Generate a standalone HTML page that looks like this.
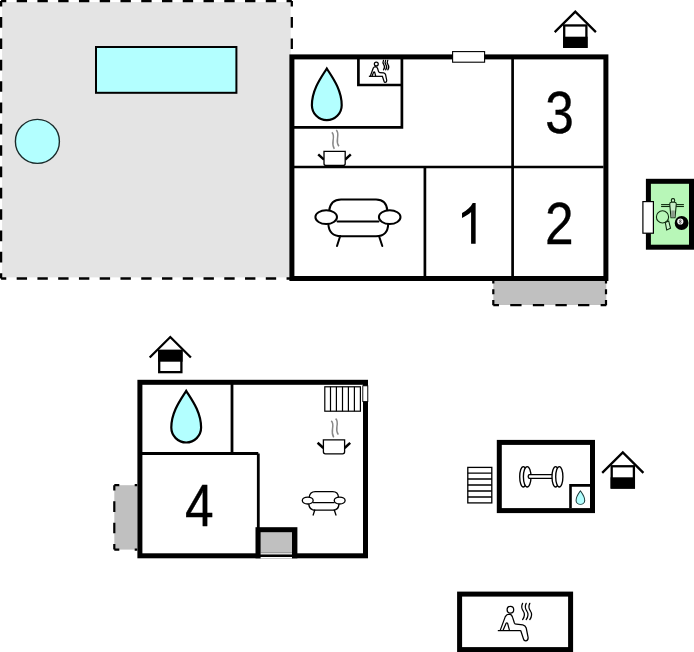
<!DOCTYPE html>
<html><head><meta charset="utf-8"><title>Floor plan</title>
<style>
html,body{margin:0;padding:0;background:#fff;}
svg{display:block;}
text{font-family:"Liberation Sans",sans-serif;}
</style></head>
<body>
<svg width="694" height="652" viewBox="0 0 694 652">
<defs>
  <!-- water drop, local coords: tip at (0,-37), bottom circle centre (0,0) r 14.6 -->
  <path id="drop" d="M0 -36.7 C-4.9 -28.8 -14.9 -16 -14.9 0 A14.9 14.9 0 0 0 14.9 0 C14.9 -16 4.9 -28.8 0 -36.7 Z"/>
  <!-- house icon: apex at (0,0) -->
  <g id="hicon">
    <polyline points="-20.6,21.7 0,1.2 20.6,21.7" fill="none" stroke="#000" stroke-width="2.3"/>
    <rect x="-11.1" y="15.05" width="22.2" height="21.3" fill="#fff" stroke="#000" stroke-width="2.3"/>
  </g>
  <!-- sauna figure, ref coords (big one) -->
  <g id="sauna" fill="none" stroke="#000" stroke-linecap="round" stroke-linejoin="round">
    <circle cx="510.4" cy="609.7" r="3.3"/>
    <path d="M500.3 630.1 L505.3 616.6 Q506.6 614.2 509.3 614.2 Q511.8 614.4 512.6 617.4 L514.4 623 Q515 624.2 516.4 624.2 L522.8 624.9 Q525.4 625.4 526.2 628 L528.1 637.3 Q528.4 640.6 525.6 640.9 Q523.9 640.9 523.5 639 L520.8 630.8"/>
    <path d="M503.2 630.1 L506 623.4 Q506.8 622.3 507.6 623.4 L509.3 629.7"/>
    <path d="M497.8 630.6 L520.8 630.6" stroke-linecap="butt"/>
    <path d="M522.6 603.4 C521 606.5 521.3 608.5 523.2 611 C525 613.5 524.7 616.5 522.6 619.6"/>
    <path d="M526.2 603.4 C524.6 606.5 524.9 608.5 526.8 611 C528.6 613.5 528.3 616.5 526.2 619.6"/>
    <path d="M529.8 603.4 C528.2 606.5 528.5 608.5 530.4 611 C532.2 613.5 531.9 616.5 529.8 619.6"/>
  </g>
  <!-- cooking pot, ref coords (house 1) -->
  <g id="pot">
    <path d="M331.8 132.4 C334.2 134.4 333.6 137.5 333.1 140.5 C332.6 143.5 332.9 146.5 334.3 148.9" fill="none" stroke="#888" stroke-width="1.5"/>
    <path d="M336.2 130.2 C338.6 132.2 338 135.3 337.5 138.3 C337 141.3 337.3 144 338.9 146.2" fill="none" stroke="#888" stroke-width="1.5"/>
    <line x1="318.2" y1="154.4" x2="324" y2="159.6" stroke="#000" stroke-width="2.5"/>
    <line x1="345.2" y1="159.6" x2="350.8" y2="154.4" stroke="#000" stroke-width="2.5"/>
    <path d="M324 151.4 L345.2 151.4 L345.2 163.4 Q345.2 165.4 343.2 165.4 L326 165.4 Q324 165.4 324 163.4 Z" fill="#fff" stroke="#000" stroke-width="1.3"/>
  </g>
  <!-- sofa, ref coords (house 1) -->
  <g id="sofa" fill="none" stroke="#000" stroke-linecap="round">
    <path d="M329.2 210.5 Q330.5 199.5 341 199.5 L376 199.5 Q386.5 199.5 387.3 210.5"/>
    <path d="M337.5 221.5 L378.5 221.5"/>
    <path d="M328.3 223.8 Q329 236.3 341 236.3 L376 236.3 Q388 236.3 388.2 223.8"/>
    <path d="M340.2 236 L337 246" />
    <path d="M379 236 L382.3 246" />
    <ellipse cx="326.2" cy="217.1" rx="10.8" ry="6.9" fill="#fff"/>
    <ellipse cx="389.7" cy="217.1" rx="10.8" ry="6.9" fill="#fff"/>
  </g>
</defs>

<!-- ===== Garden / pool area ===== -->
<rect x="2.1" y="2.1" width="288.6" height="275.3" fill="#e4e4e4"/>
<g stroke="#000" stroke-width="2.3" fill="none">
  <line x1="1.1" y1="1.1" x2="291.8" y2="1.1" stroke-dasharray="10.38 10.38" stroke-dashoffset="5.19"/>
  <line x1="1.1" y1="278.5" x2="291.8" y2="278.5" stroke-dasharray="10.38 10.38" stroke-dashoffset="5.19"/>
  <line x1="1.1" y1="1.1" x2="1.1" y2="278.5" stroke-dasharray="10.67 10.67" stroke-dashoffset="5.33"/>
  <line x1="291.8" y1="1.1" x2="291.8" y2="278.5" stroke-dasharray="10.67 10.67" stroke-dashoffset="5.33"/>
</g>
<rect x="96" y="47" width="140.4" height="45.8" fill="#b3ffff" stroke="#000" stroke-width="2"/>
<circle cx="37.4" cy="141.4" r="22" fill="#b3ffff" stroke="#1a2a2a" stroke-width="1.4"/>

<!-- ===== House 1 ===== -->
<rect x="493.3" y="281" width="113" height="24" fill="#c0c0c0"/>
<g stroke="#000" stroke-width="2.2" fill="none">
  <line x1="493.3" y1="281" x2="493.3" y2="305.2" stroke-dasharray="2.6 5.7 4.9 5.9 10"/>
  <line x1="606" y1="281" x2="606" y2="305.2" stroke-dasharray="2.6 5.7 4.9 5.9 10"/>
  <line x1="493.3" y1="305.2" x2="606.3" y2="305.2" stroke-dasharray="11.3 11.3" stroke-dashoffset="5.65"/>
</g>
<rect x="291.9" y="56.9" width="314" height="221.6" fill="#fff" stroke="#000" stroke-width="5"/>
<g stroke="#000" stroke-width="2.7" fill="none">
  <line x1="294" y1="167" x2="603.5" y2="167"/>
  <line x1="512.6" y1="59" x2="512.6" y2="276"/>
  <line x1="424.9" y1="167" x2="424.9" y2="276"/>
  <polyline points="401.9,59 401.9,127.3 294,127.3"/>
  <polyline points="358.4,59 358.4,85 401.9,85"/>
</g>
<rect x="452.6" y="51.6" width="32" height="10.6" fill="#fff" stroke="#000" stroke-width="1.1"/>
<use href="#drop" transform="translate(326.8 105.2)" fill="#b3ffff" stroke="#000" stroke-width="2.2"/>
<use href="#sauna" transform="translate(376.3 64) scale(0.59) translate(-510.4 -609.7)" stroke-width="2.1"/>
<use href="#pot"/>
<use href="#sofa" stroke-width="2"/>
<!-- digits -->
<g font-size="59.5" fill="#000" stroke="#000" stroke-width="0.35">
  <text transform="translate(545.3 132.6) scale(0.865 0.98)">3</text>
  <text transform="translate(545.1 243.7) scale(0.865 0.98)">2</text>
</g>
<path transform="translate(456.4 243.7) scale(0.0252 -0.0277)" d="M763 0H583V1147Q518 1085 412.5 1023T223 930V1104Q374 1175 487 1276T647 1472H763V0Z" fill="#000"/>
<use href="#hicon" transform="translate(575.3 10.4)"/>
<rect x="563.2" y="36.7" width="24.4" height="11.3" fill="#000"/>

<!-- ===== Game room ===== -->
<rect x="648.4" y="181.3" width="43.1" height="65.9" fill="#b8f7b8" stroke="#000" stroke-width="5"/>
<rect x="642.9" y="201.6" width="10.5" height="31.6" fill="#fff" stroke="#000" stroke-width="1.2"/>
<g stroke="#0e2a0e" stroke-width="1.1" fill="none">
  <line x1="661.1" y1="204.6" x2="683.9" y2="204.6"/>
  <line x1="661.1" y1="206.5" x2="683.9" y2="206.5"/>
  <rect x="671.4" y="198.6" width="3.2" height="3.6" rx="1.3" fill="#c6f2c6"/>
  <path d="M669.7 204 Q669.8 202.4 671.3 202.3 L674.7 202.3 Q676.2 202.4 676.3 204 L675 217.7 L671 217.7 Z" fill="#c8eec8"/>
  <path d="M671.3 210.5 L674.7 210.5 L674.9 217.3 L671.1 217.3 Z" fill="#8a9a8a" stroke="none"/>
  <circle cx="662.5" cy="216.9" r="6.1" fill="#b8f7b8"/>
  <path d="M665.3 222.4 L668.7 220.9 L670.5 228.2 L666.7 230 Z" fill="#c8f5c8"/>
</g>
<circle cx="681.6" cy="223" r="6.9" fill="#000"/>
<circle cx="680.3" cy="221.5" r="3.1" fill="#f4f4f4"/>
<g fill="none" stroke="#333" stroke-width="0.7"><circle cx="680.3" cy="220.6" r="0.8"/><circle cx="680.3" cy="222.4" r="0.9"/></g>

<!-- ===== House 2 ===== -->
<rect x="114.3" y="485.2" width="23" height="64.4" fill="#c0c0c0"/>
<g stroke="#000" stroke-width="2.2" fill="none">
  <line x1="114.3" y1="485.2" x2="114.3" y2="549.6" stroke-dasharray="10.7 10.7" stroke-dashoffset="5.35"/>
  <line x1="114.3" y1="485.2" x2="137.3" y2="485.2" stroke-dasharray="5 15.4 5"/>
  <line x1="114.3" y1="549.6" x2="137.3" y2="549.6" stroke-dasharray="5 15.4 5"/>
</g>
<rect x="139.9" y="382.3" width="225.6" height="173.5" fill="#fff" stroke="#000" stroke-width="5"/>
<g stroke="#000" stroke-width="2.8" fill="none">
  <line x1="232" y1="384" x2="232" y2="453.5"/>
  <line x1="142" y1="453.5" x2="258.3" y2="453.5"/>
  <line x1="258.3" y1="453.5" x2="258.3" y2="529"/>
</g>
<rect x="255.5" y="527.2" width="41.9" height="31.1" fill="#000"/>
<rect x="260.6" y="557" width="31.4" height="1.6" fill="#fff"/>
<rect x="260.6" y="532.2" width="31.4" height="20.4" fill="#c0c0c0"/>
<rect x="260.6" y="552.6" width="31.4" height="1.9" fill="#dcdcdc"/>
<rect x="362.8" y="385.8" width="5" height="15.8" fill="#fff" stroke="#000" stroke-width="0.9"/>
<g fill="#fff" stroke="#000" stroke-width="1.2">
  <rect x="324.8" y="386.8" width="35.6" height="24.4"/>
  <path d="M330.5 386.8 V411.2 M336.4 386.8 V411.2 M342.5 386.8 V411.2 M348.4 386.8 V411.2 M354.4 386.8 V411.2" fill="none"/>
</g>
<use href="#drop" transform="translate(186.2 427.6)" fill="#b3ffff" stroke="#000" stroke-width="2.2"/>
<use href="#pot" transform="translate(-0.6 288.4)"/>
<use href="#sofa" transform="translate(302 491.3) scale(0.503) translate(-314.8 -198.8)" stroke-width="2.6"/>
<text transform="translate(184.9 525.6) scale(0.865 1)" font-size="59.5" stroke="#000" stroke-width="0.4">4</text>
<use href="#hicon" transform="translate(170.3 335.8)"/>
<rect x="158.2" y="349.9" width="24.4" height="11.8" fill="#000"/>

<!-- ===== Gym ===== -->
<g fill="#fff" stroke="#000" stroke-width="1.3">
  <rect x="467.8" y="467.4" width="24" height="35.5"/>
  <path d="M467.8 473.2 H491.8 M467.8 479 H491.8 M467.8 485 H491.8 M467.8 491 H491.8 M467.8 497 H491.8" fill="none"/>
</g>
<rect x="499.3" y="442.4" width="93.2" height="68.2" fill="#fff" stroke="#000" stroke-width="5"/>
<polyline points="570.5,508 570.5,485.4 590,485.4" fill="none" stroke="#000" stroke-width="2.6"/>
<use href="#drop" transform="translate(580.4 500.5) scale(0.29 0.262)" fill="#b3ffff" stroke="#1a3a3a" stroke-width="3.6"/>
<g fill="#fff" stroke="#000" stroke-width="1.35">
  <ellipse cx="523.3" cy="476.8" rx="3.6" ry="10.2"/>
  <ellipse cx="527.2" cy="476.8" rx="3.8" ry="10.2"/>
  <path d="M552 474.6 L529.2 474.6 Q527.2 476.5 529.2 478.4 L552 478.4"/>
  <ellipse cx="555.6" cy="476.8" rx="3.6" ry="10.2"/>
  <ellipse cx="559.3" cy="476.8" rx="3.6" ry="10.2"/>
</g>
<use href="#hicon" transform="translate(622.8 451.2)"/>
<rect x="610.6" y="477.3" width="24.4" height="11.3" fill="#000"/>

<!-- ===== Sauna ===== -->
<rect x="459.6" y="594.1" width="111" height="55.5" fill="#fff" stroke="#000" stroke-width="5"/>
<use href="#sauna" stroke-width="1.25"/>
</svg>
</body></html>
